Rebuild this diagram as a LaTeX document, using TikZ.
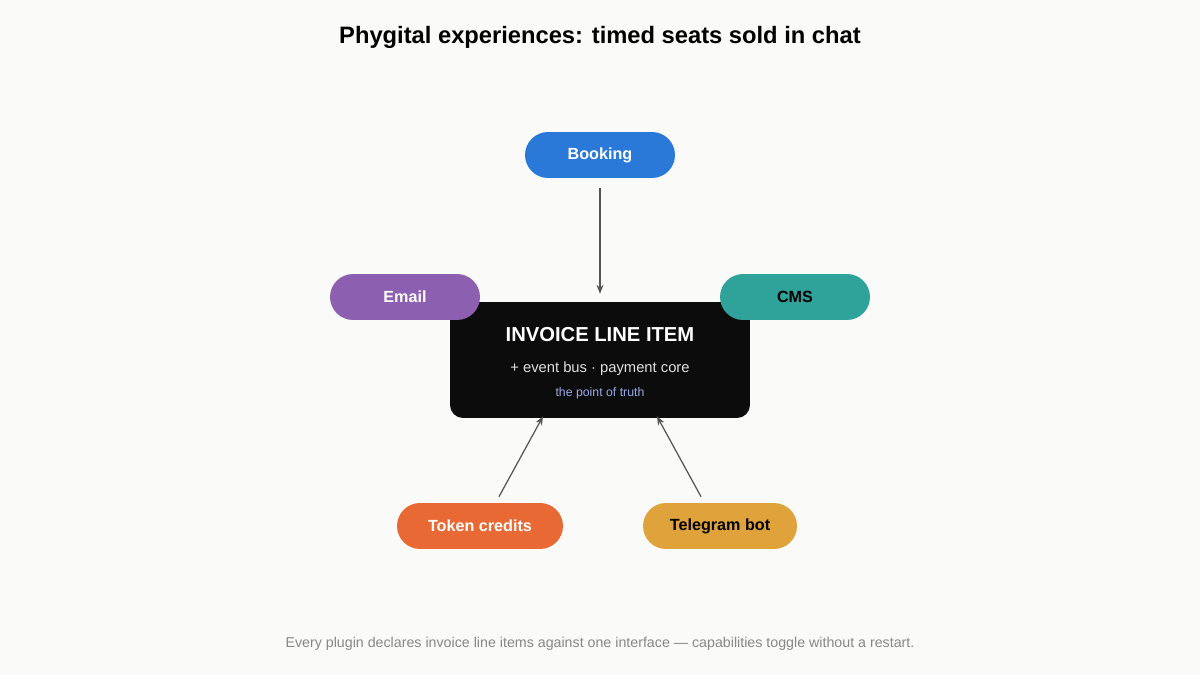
\documentclass[tikz,border=0pt]{standalone}
\usepackage{fontspec}
\setmainfont{Liberation Sans}
\usetikzlibrary{positioning,calc,arrows.meta}
\definecolor{bg}{HTML}{FAFAF8}
\definecolor{cblue}{HTML}{2A78D8}
\definecolor{cpurple}{HTML}{8D5FB1}
\definecolor{cteal}{HTML}{2FA399}
\definecolor{corange}{HTML}{E86934}
\definecolor{cgold}{HTML}{E0A23A}
\definecolor{cbox}{HTML}{0C0C0C}
\definecolor{cline}{HTML}{555555}
\tikzset{
  pill/.style={rounded corners=0.46cm, minimum height=0.92cm, font=\fontsize{9.2}{11}\selectfont\bfseries},
  link/.style={draw=cline, line width=0.7pt, -{Stealth[length=5pt,width=4pt]}}
}
\begin{document}
\begin{tikzpicture}[x=0.02cm,y=-0.02cm]
  \fill[bg] (0,0) rectangle (1200,675);
  \node (title) at (600,37) {\fontsize{13.5}{16}\selectfont\bfseries Phygital experiences: timed seats sold in chat};

  \node[fill=cbox, rounded corners=0.26cm, minimum width=6cm, minimum height=2.32cm] (inv) at (600,360) {};
  \node[text=white] (invt) at (600,335) {\fontsize{11.5}{14}\selectfont\bfseries INVOICE LINE ITEM};
  \node[text=white!88!black] (invs) at (600,369) {\fontsize{8.4}{10}\selectfont + event bus · payment core};
  \node[text={rgb,255:red,150;green,172;blue,232}] (invp) at (600,393) {\fontsize{7}{9}\selectfont the point of truth};

  \node[pill, fill=cblue, text=white, minimum width=3cm] (book) at (600,155) {Booking};
  \node[pill, fill=cpurple, text=white, minimum width=3cm] (mail) at (405,297) {Email};
  \node[pill, fill=cteal, text=black, minimum width=3cm] (cms) at (795,297) {CMS};
  \node[pill, fill=corange, text=white, minimum width=3.32cm] (tok) at (480,526) {Token credits};
  \node[pill, fill=cgold, text=black, minimum width=3.08cm] (tg) at (720,526) {Telegram bot};

  \draw[link, shorten <=0.2cm, shorten >=0.16cm] (book.south) -- (inv.north);
  \draw[link] ($(tok.north)+(19,-6)$) -- ($(inv.south)+(-57,-2)$);
  \draw[link] ($(tg.north)+(-19,-6)$) -- ($(inv.south)+(57,-2)$);

  \node[text={rgb,255:red,135;green,135;blue,135}] (foot) at (600,644) {\fontsize{8.1}{10}\selectfont Every plugin declares invoice line items against one interface — capabilities toggle without a restart.};
\end{tikzpicture}
\end{document}
